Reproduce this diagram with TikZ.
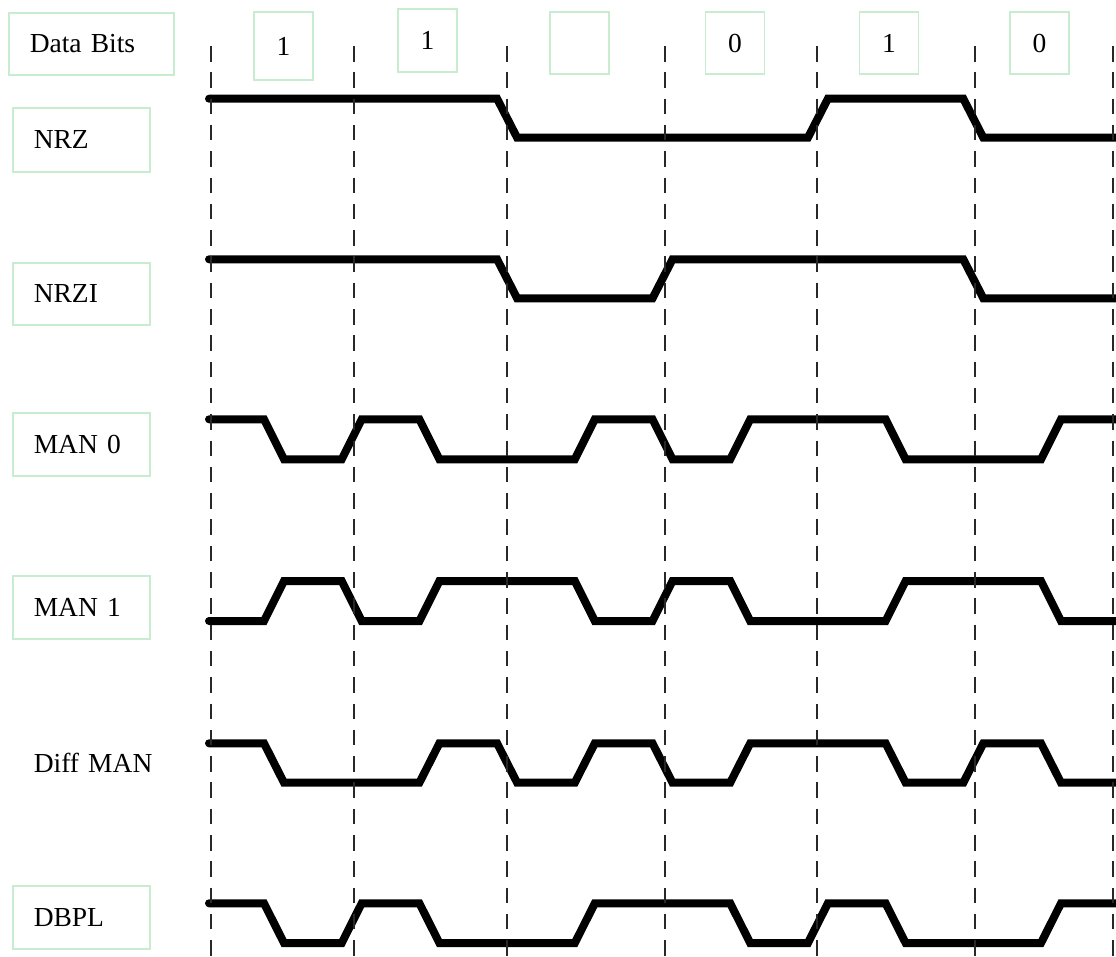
\documentclass[tikz,border=0pt]{standalone}
\usepackage{fontspec}
\setmainfont{Liberation Serif}
\definecolor{boxgreen}{RGB}{200,236,207}
\definecolor{gridgray}{RGB}{40,40,40}
\begin{document}
\begin{tikzpicture}[x=1pt,y=-1pt,
  lbl/.style={draw=boxgreen, line width=1.5pt, inner xsep=21pt, inner ysep=0pt,
    align=left, anchor=north west, text height=18.2pt, text depth=0pt,
    font=\fontsize{27.5}{33}\selectfont},
  bitbox/.style={draw=boxgreen, line width=1.5pt, minimum width=59pt, inner sep=0pt,
    text height=18.2pt, text depth=0pt, font=\fontsize{27.5}{33}\selectfont},
  gridline/.style={draw=gridgray, line width=1.8pt, dash pattern=on 15.5pt off 10.8pt},
  wave/.style={line width=8pt, line cap=round, line join=miter, miter limit=10}]
\useasboundingbox (0,0) rectangle (1116,956);
\clip (0,0) rectangle (1116,956);

% labels
\node[lbl, text width=123pt, minimum height=62pt] (databits) at (8,12) {Data Bits};
\node[lbl, text width=95pt, minimum height=64pt] (nrz) at (12,107) {NRZ};
\node[lbl, text width=95pt, minimum height=62pt] (nrzi) at (12,262) {NRZI};
\node[lbl, text width=95pt, minimum height=63pt] (man0) at (12,412) {MAN 0};
\node[lbl, text width=95pt, minimum height=63pt] (man1) at (12,575) {MAN 1};
\node[lbl, draw=none, text width=125pt, minimum height=63pt] (diffman) at (12,731.5) {Diff MAN};
\node[lbl, text width=95pt, minimum height=63pt] (dbpl) at (12,885) {DBPL};

% data bit boxes
\node[bitbox, minimum height=68pt] (b1) at (283.5,46) {1};
\node[bitbox, minimum height=63pt] (b2) at (427.5,40.5) {1};
\node[bitbox, minimum height=62pt] (b3) at (579.5,43) {};
\node[bitbox, minimum height=62pt] (b4) at (735,43) {0};
\node[bitbox, minimum height=62pt] (b5) at (889,43) {1};
\node[bitbox, minimum height=62pt] (b6) at (1039.5,43) {0};

% NRZ
\draw[wave] (209,98.7) -- (497.1,98.7) -- (517.1,137.7) -- (807.9,137.7) -- (827.9,98.7)
  -- (963.3,98.7) -- (983.3,137.7) -- (1130,137.7);
% NRZI
\draw[wave] (209,259.3) -- (497.1,259.3) -- (517.1,298.3) -- (652.5,298.3) -- (672.5,259.3)
  -- (963.3,259.3) -- (983.3,298.3) -- (1130,298.3);
% MAN 0
\draw[wave] (209,419.3) -- (264,419.3) -- (284,459.3) -- (341.7,459.3) -- (361.7,419.3)
  -- (419.4,419.3) -- (439.4,459.3) -- (574.8,459.3) -- (594.8,419.3) -- (652.5,419.3)
  -- (672.5,459.3) -- (730.2,459.3) -- (750.2,419.3) -- (885.6,419.3) -- (905.6,459.3)
  -- (1041,459.3) -- (1061,419.3) -- (1130,419.3);
% MAN 1
\draw[wave] (209,621) -- (264,621) -- (284,581) -- (341.7,581) -- (361.7,621)
  -- (419.4,621) -- (439.4,581) -- (574.8,581) -- (594.8,621) -- (652.5,621)
  -- (672.5,581) -- (730.2,581) -- (750.2,621) -- (885.6,621) -- (905.6,581)
  -- (1041,581) -- (1061,621) -- (1130,621);
% Diff MAN
\draw[wave] (209,743.3) -- (264,743.3) -- (284,782.7) -- (419.4,782.7) -- (439.4,743.3)
  -- (497.1,743.3) -- (517.1,782.7) -- (574.8,782.7) -- (594.8,743.3) -- (652.5,743.3)
  -- (672.5,782.7) -- (730.2,782.7) -- (750.2,743.3) -- (885.6,743.3) -- (905.6,782.7)
  -- (963.3,782.7) -- (983.3,743.3) -- (1041,743.3) -- (1061,782.7) -- (1130,782.7);
% DBPL
\draw[wave] (209,903.3) -- (264,903.3) -- (284,943) -- (341.7,943) -- (361.7,903.3)
  -- (419.4,903.3) -- (439.4,943) -- (574.8,943) -- (594.8,903.3) -- (730.2,903.3)
  -- (750.2,943) -- (807.9,943) -- (827.9,903.3) -- (885.6,903.3) -- (905.6,943)
  -- (1041,943) -- (1061,903.3) -- (1130,903.3);

% bit boundaries
\foreach \x in {211,354,507,665,817,975,1113}
  \draw[gridline] (\x,46) -- (\x,960);
\end{tikzpicture}
\end{document}
